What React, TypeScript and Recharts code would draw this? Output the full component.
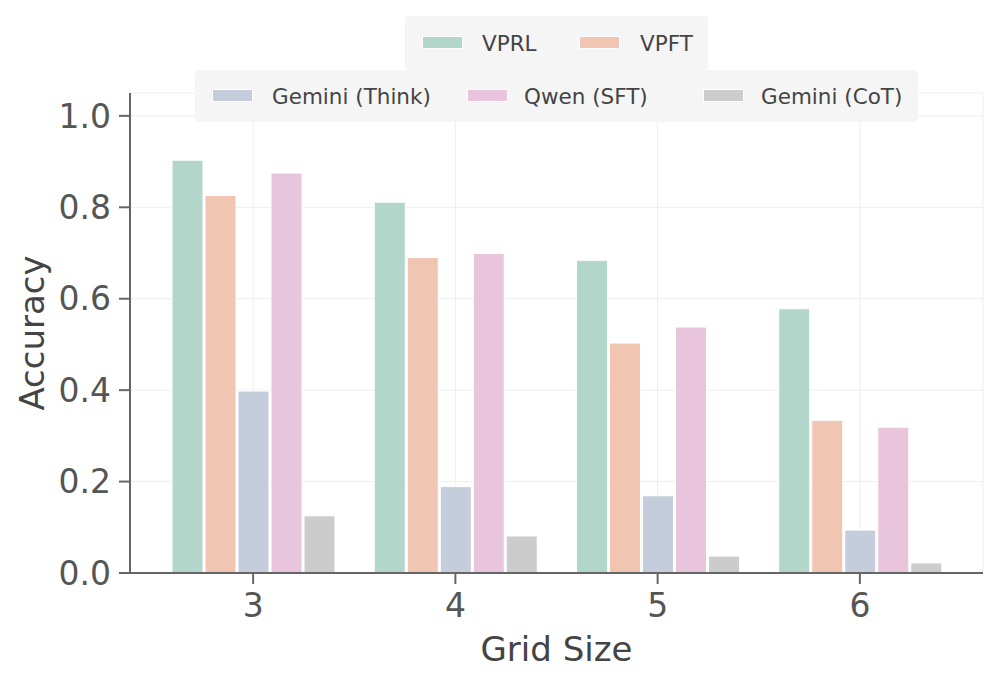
import React from 'react';
import { BarChart, Bar, XAxis, YAxis, CartesianGrid } from 'recharts';

const GRID_SIZES = ['3', '4', '5', '6'];
const VPRL = [0.903, 0.811, 0.684, 0.578];
const VPFT = [0.826, 0.690, 0.503, 0.334];
const GEMINI_THINK = [0.398, 0.189, 0.169, 0.094];
const QWEN_SFT = [0.875, 0.699, 0.538, 0.319];
const GEMINI_COT = [0.125, 0.081, 0.037, 0.022];
const Y_TICKS = [0, 0.2, 0.4, 0.6, 0.8, 1.0];

const SERIES = [
    { key: 'vprl', name: 'VPRL', color: '#b3d6ca' },
    { key: 'vpft', name: 'VPFT', color: '#f0c5b2' },
    { key: 'think', name: 'Gemini (Think)', color: '#c5cddc' },
    { key: 'qwen', name: 'Qwen (SFT)', color: '#e8c5dc' },
    { key: 'cot', name: 'Gemini (CoT)', color: '#cccccc' },
];

const data = GRID_SIZES.map((g, i) => ({
    grid: g,
    vprl: VPRL[i],
    vpft: VPFT[i],
    think: GEMINI_THINK[i],
    qwen: QWEN_SFT[i],
    cot: GEMINI_COT[i],
}));

const FONT = '"DejaVu Sans", sans-serif';

function LegendItem({ name, color, swatchLeft, textLeft }: any) {
    return (
        <>
            <div style={{
                position: 'absolute', left: swatchLeft, top: '50%', marginTop: -7,
                width: 41, height: 13, background: color, border: '1px solid #fff', boxSizing: 'border-box',
            }} />
            <div style={{
                position: 'absolute', left: textLeft, top: '50%', transform: 'translateY(-50%)',
                fontSize: 21.5, color: '#444', fontFamily: FONT, whiteSpace: 'nowrap',
            }}>{name}</div>
        </>
    );
}

function TwoRowLegend() {
    const box: React.CSSProperties = {
        position: 'absolute', background: '#f5f5f5', borderRadius: 4,
    };
    return (
        <div style={{ position: 'absolute', left: 0, top: 0, width: 997, height: 130, pointerEvents: 'none' }}>
            <div style={{ ...box, left: 195, top: 70, width: 723, height: 52 }}>
                <LegendItem name={SERIES[2].name} color={SERIES[2].color} swatchLeft={17} textLeft={77} />
                <LegendItem name={SERIES[3].name} color={SERIES[3].color} swatchLeft={272} textLeft={329} />
                <LegendItem name={SERIES[4].name} color={SERIES[4].color} swatchLeft={508} textLeft={566} />
            </div>
            <div style={{ ...box, left: 405, top: 16, width: 303, height: 54 }}>
                <LegendItem name={SERIES[0].name} color={SERIES[0].color} swatchLeft={17} textLeft={77} />
                <LegendItem name={SERIES[1].name} color={SERIES[1].color} swatchLeft={174} textLeft={235} />
            </div>
        </div>
    );
}

export default function App() {
    return (
        <div style={{ position: 'absolute', left: 0, top: 0, width: 997, height: 683, background: '#fff' }}>
            <BarChart
                width={997}
                height={683}
                data={data}
                margin={{ top: 93, right: 14, bottom: 0, left: 0 }}
                barSize={31}
                barGap={2}
            >
                <CartesianGrid stroke="#eeeeee" strokeWidth={1} />
                <XAxis
                    dataKey="grid"
                    padding={{ left: 22, right: 22 }}
                    axisLine={{ stroke: '#666', strokeWidth: 2 }}
                    tickLine={{ stroke: '#666', strokeWidth: 2 }}
                    tickSize={11}
                    tickMargin={10}
                    tick={{ fontSize: 33, fill: '#555', fontFamily: FONT }}
                    height={110}
                    label={{
                        value: 'Grid Size', position: 'insideBottom', offset: 22,
                        style: { fontSize: 34, fill: '#444', fontFamily: FONT },
                    }}
                />
                <YAxis
                    type="number"
                    domain={[0, 1.05]}
                    ticks={Y_TICKS}
                    tickFormatter={(v: number) => v.toFixed(1)}
                    width={130}
                    axisLine={{ stroke: '#666', strokeWidth: 2 }}
                    tickLine={{ stroke: '#666', strokeWidth: 2 }}
                    tickSize={11}
                    tickMargin={8}
                    tick={{ fontSize: 33, fill: '#555', fontFamily: FONT }}
                    label={{
                        value: 'Accuracy', angle: -90, position: 'insideLeft', offset: 32,
                        style: { fontSize: 34, fill: '#444', fontFamily: FONT, textAnchor: 'middle' },
                    }}
                />
                {SERIES.map(s => (
                    <Bar
                        key={s.key}
                        dataKey={s.key}
                        name={s.name}
                        fill={s.color}
                        stroke="#ffffff"
                        strokeWidth={1}
                        isAnimationActive={false}
                    />
                ))}
            </BarChart>
            <TwoRowLegend />
        </div>
    );
}
